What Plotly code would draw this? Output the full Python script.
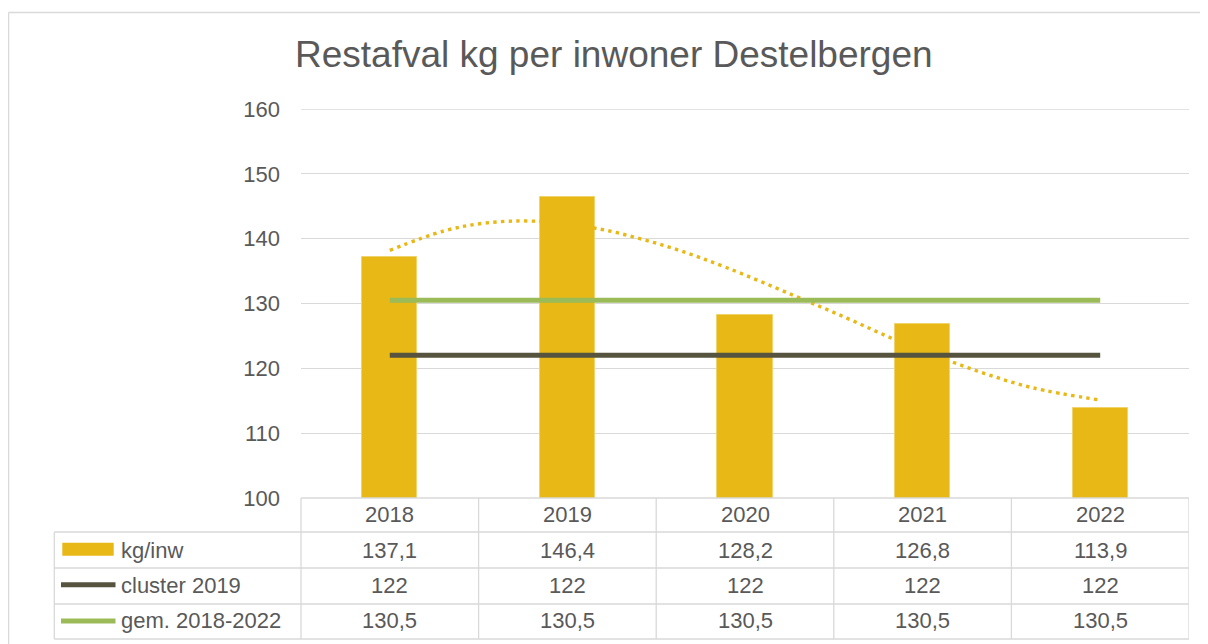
import plotly.graph_objects as go

# ---- data ----
years = ["2018", "2019", "2020", "2021", "2022"]
kg_inw = [137.1, 146.4, 128.2, 126.8, 113.9]
cluster_2019 = [122, 122, 122, 122, 122]
gem_2018_2022 = [130.5, 130.5, 130.5, 130.5, 130.5]
series_names = ["kg/inw", "cluster 2019", "gem. 2018-2022"]
# dotted trendline (category index, value)
trend_x = [0, 0.306, 0.535, 0.812, 1.178, 1.408, 1.629, 1.890, 2.278, 2.577, 2.830, 3.087, 3.350, 3.619, 4.0]
trend_y = [138.2, 141.2, 142.4, 142.7, 141.5, 140.0, 138.2, 135.6, 131.2, 127.7, 124.6, 121.8, 119.2, 117.0, 115.1]
y_ticks = [100, 110, 120, 130, 140, 150, 160]
title = "Restafval kg per inwoner Destelbergen"

# ---- style ----
GOLD = "#E8B817"
DARK = "#56533F"
GREEN = "#9BBB59"
TXT = "#595959"
GRID = "#D9D9D9"
FONT = "Liberation Sans, Arial, sans-serif"

OFF = 8  # page body margin
W, H = 1208 - OFF, 644 - OFF
L, T = 301 - OFF, 109 - OFF
R = W - (1189 - OFF)
B = H - (498 - OFF)
PW, PH = W - L - R, H - T - B


def xp(px):
    # px given in page (screenshot) coordinates
    return (px - OFF - L) / PW


def yp(py):
    return (H - B - (py - OFF)) / PH


xs = list(range(len(years)))

fig = go.Figure()
# trendline (behind bars)
fig.add_trace(go.Scatter(x=trend_x, y=trend_y, mode="lines",
                         line=dict(color=GOLD, width=3.4, dash="3.4px,4.3px", shape="spline", smoothing=1),
                         hoverinfo="skip", showlegend=False))
fig.add_trace(go.Bar(x=xs, y=kg_inw, width=0.31, marker=dict(color=GOLD, line=dict(color="#F0D36A", width=1)),
                     name=series_names[0], showlegend=False))
# horizontal lines on overlay axes (drawn above bars)
fig.add_trace(go.Scatter(x=xs, y=cluster_2019, mode="lines", line=dict(color=DARK, width=5),
                         xaxis="x2", yaxis="y2", name=series_names[1], showlegend=False))
fig.add_trace(go.Scatter(x=xs, y=gem_2018_2022, mode="lines", line=dict(color=GREEN, width=5),
                         xaxis="x2", yaxis="y2", name=series_names[2], showlegend=False))

shapes = []
ann = []
LC = dict(color=GRID, width=1.3)

# outer chart border
shapes.append(dict(type="line", xref="paper", yref="paper", x0=xp(8.5), x1=xp(1215), y0=yp(12.5), y1=yp(12.5),
                   line=dict(color=GRID, width=1.5)))
shapes.append(dict(type="line", xref="paper", yref="paper", x0=xp(8.5), x1=xp(8.5), y0=yp(12.5), y1=yp(660),
                   line=dict(color=GRID, width=1.5)))

# top gridline (160)
shapes.append(dict(type="line", xref="paper", yref="y", x0=0, x1=1, y0=160, y1=160, line=LC, layer="below"))

# data table grid
row_lines = [498, 532, 568, 604, 639]
for i, ry in enumerate(row_lines):
    x0 = xp(301) if i == 0 else xp(54.3)
    shapes.append(dict(type="line", xref="paper", yref="paper", x0=x0, x1=1, y0=yp(ry), y1=yp(ry), line=LC))
shapes.append(dict(type="line", xref="paper", yref="paper", x0=xp(54.3), x1=xp(54.3), y0=yp(532), y1=yp(639), line=LC))
shapes.append(dict(type="line", xref="paper", yref="paper", x0=0, x1=0, y0=yp(498), y1=yp(639), line=LC))
for i in range(len(years)):
    shapes.append(dict(type="line", xref="x", yref="paper", x0=i + 0.5, x1=i + 0.5, y0=yp(498), y1=yp(639), line=LC))

# legend keys
shapes.append(dict(type="rect", xref="paper", yref="paper", x0=xp(62.3), x1=xp(113.7), y0=yp(555.7), y1=yp(542.7),
                   fillcolor=GOLD, line=dict(width=0)))
shapes.append(dict(type="line", xref="paper", yref="paper", x0=xp(61), x1=xp(115.5), y0=yp(584.7), y1=yp(584.7),
                   line=dict(color=DARK, width=5)))
shapes.append(dict(type="line", xref="paper", yref="paper", x0=xp(61), x1=xp(115.5), y0=yp(621), y1=yp(621),
                   line=dict(color=GREEN, width=5)))

tf = dict(family=FONT, size=22, color=TXT)
row_centers = [550.3, 585.5, 620.5]
for name, rc in zip(series_names, row_centers):
    ann.append(dict(text=name, xref="paper", yref="paper", x=xp(119), y=yp(rc), xanchor="left", yanchor="middle",
                    showarrow=False, font=tf))


def fmt(v):
    s = ("%g" % v)
    return s.replace(".", ",")


for i, yr in enumerate(years):
    ann.append(dict(text=yr, xref="x", yref="paper", x=i, y=yp(514.7), xanchor="center", yanchor="middle",
                    showarrow=False, font=tf))
    for vals, rc in zip([kg_inw, cluster_2019, gem_2018_2022], row_centers):
        ann.append(dict(text=fmt(vals[i]), xref="x", yref="paper", x=i, y=yp(rc), xanchor="center",
                        yanchor="middle", showarrow=False, font=tf))

# title
ann.append(dict(text=title, xref="paper", yref="paper", x=xp(614), y=yp(55), xanchor="center", yanchor="middle",
                showarrow=False, font=dict(family=FONT, size=37, color=TXT)))

fig.update_layout(
    width=W, height=H,
    margin=dict(l=L, r=R, t=T, b=B, pad=0),
    paper_bgcolor="white", plot_bgcolor="white",
    showlegend=False,
    bargap=0,
    xaxis=dict(range=[-0.5, len(years) - 0.5], showgrid=False, showticklabels=False, zeroline=False,
               showline=False, ticks=""),
    yaxis=dict(range=[100, 160], tickvals=y_ticks, showgrid=True, gridcolor=GRID, gridwidth=1.3,
               zeroline=False, showline=False, ticks="", ticklabelstandoff=20,
               tickfont=dict(family=FONT, size=22, color=TXT)),
    xaxis2=dict(range=[-0.5, len(years) - 0.5], overlaying="x", visible=False),
    yaxis2=dict(range=[100, 160], overlaying="y", visible=False),
    shapes=shapes,
    annotations=ann,
    font=dict(family=FONT, color=TXT),
)

fig.write_html("out.html")
